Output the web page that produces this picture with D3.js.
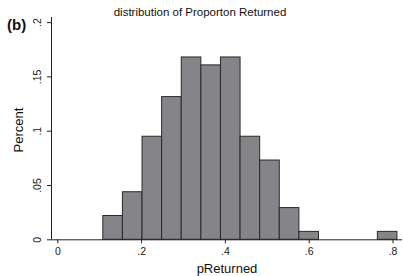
<!DOCTYPE html>
<html>
<head>
<meta charset="utf-8">
<script src="https://cdn.jsdelivr.net/npm/d3@7"></script>
<style>
  body { margin: 0; background: #fff; }
  svg { display: block; font-family: "Liberation Sans", Arial, sans-serif; }
</style>
</head>
<body>
<svg id="chart" width="403" height="276"></svg>
<script>
// histogram bins (start, end) and share of observations
const binStarts = [0.1086, 0.1554, 0.2022, 0.2490, 0.2958, 0.3426, 0.3894, 0.4362, 0.4830, 0.5298, 0.5766, 0.7638];
const binWidth = 0.0468;
const percents = [0.0219, 0.0438, 0.0949, 0.1314, 0.1679, 0.1606, 0.1679, 0.0949, 0.0730, 0.0292, 0.0073, 0.0073];
const xTicks = [0, 0.2, 0.4, 0.6, 0.8];
const yTicks = [0, 0.05, 0.1, 0.15, 0.2];

const svg = d3.select('#chart');

let xScale = d3.scaleLinear().domain([0, 0.8]).range([57.3, 392.5]);
let yScale = d3.scaleLinear().domain([0, 0.2]).range([239.3, 22.1]);

const fmt = (d) => (d === 0 ? '0' : String(d).replace(/^0/, ''));

// bars
svg.append('g')
  .selectAll('rect')
  .data(percents)
  .join('rect')
  .attr('x', (d, i) => xScale(binStarts[i]))
  .attr('y', (d) => yScale(d))
  .attr('width', xScale(binWidth) - xScale(0))
  .attr('height', (d) => yScale(0) - yScale(d))
  .attr('fill', '#858589')
  .attr('stroke', '#2a2a2a')
  .attr('stroke-width', 1);

// y axis
const yAxis = svg.append('g')
  .attr('transform', 'translate(51,0)')
  .call(d3.axisLeft(yScale).tickValues(yTicks).tickFormat(fmt).tickSize(4).tickSizeOuter(0));
yAxis.select('.domain').attr('stroke', '#222').attr('d', 'M0.5,' + yScale(0) + 'V17');
yAxis.selectAll('.tick line').attr('stroke', '#222');
yAxis.selectAll('.tick text')
  .attr('x', null).attr('dy', null)
  .attr('transform', 'translate(-10,0) rotate(-90)')
  .attr('text-anchor', 'middle')
  .attr('font-size', 10.5)
  .attr('fill', '#222');

// x axis
const xAxis = svg.append('g')
  .attr('transform', 'translate(0,' + yScale(0) + ')')
  .call(d3.axisBottom(xScale).tickValues(xTicks).tickFormat(fmt).tickSize(4).tickSizeOuter(0));
xAxis.select('.domain').attr('stroke', '#222').attr('d', 'M51,0.5H402');
xAxis.selectAll('.tick line').attr('stroke', '#222');
xAxis.selectAll('.tick text')
  .attr('y', 8)
  .attr('font-size', 10.5)
  .attr('fill', '#222');

// titles
svg.append('text')
  .attr('x', 200).attr('y', 16)
  .attr('text-anchor', 'middle')
  .attr('font-size', 11.5)
  .attr('fill', '#111')
  .text('distribution of Proporton Returned');

svg.append('text')
  .attr('x', 7).attr('y', 30)
  .attr('font-size', 15)
  .attr('font-weight', 'bold')
  .attr('fill', '#111')
  .text('(b)');

svg.append('text')
  .attr('transform', 'translate(23,130) rotate(-90)')
  .attr('text-anchor', 'middle')
  .attr('font-size', 13)
  .attr('fill', '#111')
  .text('Percent');

svg.append('text')
  .attr('x', 227).attr('y', 273)
  .attr('text-anchor', 'middle')
  .attr('font-size', 13)
  .attr('fill', '#111')
  .text('pReturned');
</script>
</body>
</html>
